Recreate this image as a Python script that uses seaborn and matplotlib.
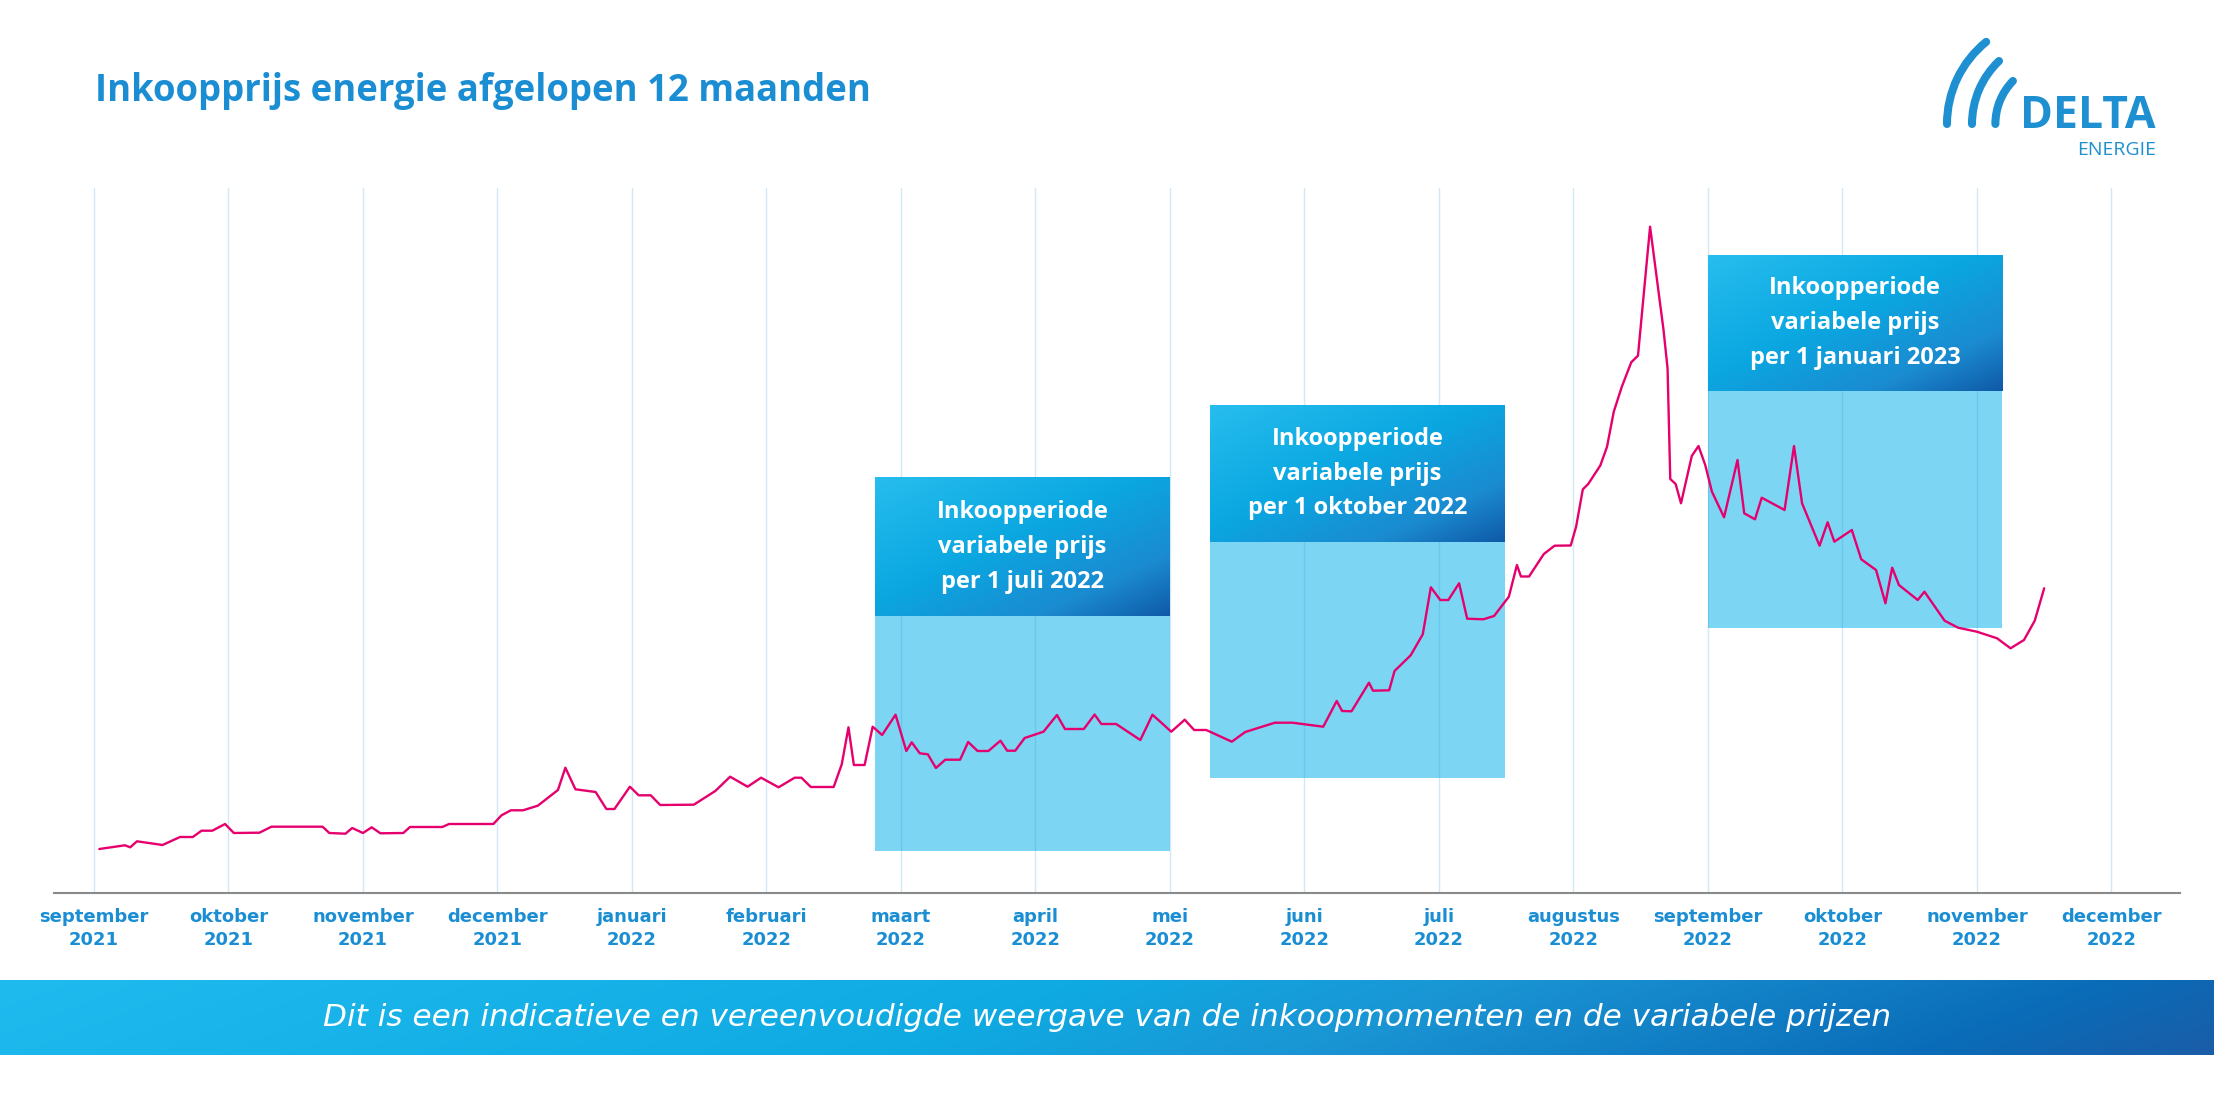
import numpy as np
import pandas as pd
import seaborn as sns
import matplotlib.pyplot as plt
from matplotlib.patches import Rectangle, Arc
from matplotlib.colors import LinearSegmentedColormap

# maand-as: 0 = september 2021, 15 = december 2022
maanden = ["september\n2021", "oktober\n2021", "november\n2021", "december\n2021",
           "januari\n2022", "februari\n2022", "maart\n2022", "april\n2022",
           "mei\n2022", "juni\n2022", "juli\n2022", "augustus\n2022",
           "september\n2022", "oktober\n2022", "november\n2022", "december\n2022"]
maand_pos = list(range(len(maanden)))

maand = [0.04, 0.23, 0.27, 0.32, 0.51, 0.64, 0.735, 0.80, 0.88, 0.975,
         1.04, 1.23, 1.32, 1.70, 1.75, 1.87, 1.92, 2.00, 2.065, 2.13,
         2.30, 2.35, 2.59, 2.64, 2.97, 3.03, 3.10, 3.19, 3.30, 3.45,
         3.505, 3.58, 3.73, 3.81, 3.87, 3.985, 4.05, 4.14, 4.21, 4.46,
         4.62, 4.73, 4.86, 4.96, 5.09, 5.21, 5.26, 5.33, 5.50, 5.56,
         5.61, 5.65, 5.73, 5.79, 5.86, 5.96, 6.04, 6.08, 6.14, 6.20,
         6.26, 6.33, 6.44, 6.50, 6.57, 6.65, 6.74, 6.79, 6.85, 6.92,
         7.06, 7.16, 7.22, 7.36, 7.44, 7.49, 7.60, 7.78, 7.87, 8.01,
         8.11, 8.18, 8.27, 8.46, 8.56, 8.78, 8.91, 9.14, 9.24, 9.28,
         9.35, 9.48, 9.51, 9.63, 9.67, 9.79, 9.88, 9.94, 10.01, 10.07,
         10.15, 10.21, 10.33, 10.41, 10.52, 10.58, 10.61, 10.67, 10.78, 10.86,
         10.98, 11.02, 11.07, 11.11, 11.20, 11.25, 11.30, 11.36, 11.43, 11.48,
         11.57, 11.67, 11.70, 11.72, 11.76, 11.80, 11.88, 11.93, 11.98, 12.03,
         12.12, 12.22, 12.27, 12.35, 12.40, 12.57, 12.64, 12.70, 12.83, 12.89,
         12.94, 13.07, 13.14, 13.25, 13.32, 13.37, 13.42, 13.56, 13.61, 13.76,
         13.86, 14.00, 14.15, 14.25, 14.35, 14.43, 14.50]
prijs = [44, 47.7, 45.7, 51.7, 48, 56, 56, 62.3, 62.3, 69,
         60, 60.3, 66.3, 66.3, 60, 59.3, 65, 60, 65.7, 59.7,
         60, 66, 66, 69, 69, 77.7, 82.7, 82.7, 87.3, 103,
         125.3, 103.7, 101, 84, 84, 106.3, 97.7, 97.7, 88, 88.3,
         102, 116.3, 106.3, 115.3, 105.7, 115.3, 115.3, 106, 106, 128.7,
         165.7, 128, 128, 166.3, 158, 178.3, 142, 150.7, 139.7, 138.7,
         125, 133.3, 133.3, 151, 142, 142, 152.3, 142.3, 142.3, 155,
         161.3, 178, 164, 164, 178.5, 169, 169, 153, 178.3, 161.3,
         173.3, 163, 163, 151.3, 161, 170.3, 170.3, 166.3, 192, 182,
         181.7, 210.3, 202.3, 202.7, 222, 237.7, 258.7, 305.7, 293, 293,
         309.7, 274.3, 273.7, 277, 296.3, 328, 316.5, 316.5, 339, 347.3,
         347.5, 366.3, 403.7, 409, 427.5, 446.3, 481.3, 506.3, 530.7, 537.3,
         666.3, 563, 524.7, 414, 409, 389.7, 437, 447, 428, 401.3,
         375.7, 433, 379.7, 373.7, 395.3, 383, 447, 389.7, 347.3, 370.7,
         351.3, 363, 333.7, 323, 289.7, 325.3, 308, 293, 301.3, 272.3,
         265.3, 261.3, 254.7, 244.7, 253, 272.3, 304.7]

# inkoopperiodes
perioden = ["Inkoopperiode\nvariabele prijs\nper 1 juli 2022",
            "Inkoopperiode\nvariabele prijs\nper 1 oktober 2022",
            "Inkoopperiode\nvariabele prijs\nper 1 januari 2023"]
periode_start = [5.81, 8.30, 12.0]
periode_eind = [8.0, 10.49, 14.19]
periode_laag = [42, 115, 265]
periode_midden = [277, 351, 502]
periode_hoog = [415, 488, 638]

titel = "Inkoopprijs energie afgelopen 12 maanden"
voetnoot = "Dit is een indicatieve en vereenvoudigde weergave van de inkoopmomenten en de variabele prijzen"

sns.set_theme(style="white")
plt.rcParams["font.family"] = ["Open Sans", "DejaVu Sans"]

BLAUW = "#1b8ed3"
ROZE = "#e5006e"
LICHT = "#7dd5f4"

W, H = 2220, 1119
fig = plt.figure(figsize=(W / 100, H / 100), dpi=100)

# achtergrond-as in pixels voor titel, logo en balk
bg = fig.add_axes([0, 0, 1, 1])
bg.axis("off")

ax = fig.add_axes([54 / W, 1 - 893 / H, 2126 / W, 705 / H])
ax.patch.set_alpha(0)

hdr_cmap = LinearSegmentedColormap.from_list(
    "hdr", [(0, "#27bdee"), (0.45, "#0aa7e1"), (0.78, "#1b8bd0"), (1, "#0f5aa8")])
u = np.linspace(0, 1, 200)[None, :]
v = np.linspace(0, 1, 100)[:, None]
diag = (u + v) / 2

for i in maand_pos:
    ax.axvline(i, color=BLAUW, alpha=0.2, lw=1, zorder=2)

for txt, x0, x1, lo, mid, hi in zip(perioden, periode_start, periode_eind,
                                    periode_laag, periode_midden, periode_hoog):
    ax.add_patch(Rectangle((x0, lo), x1 - x0, mid - lo, color=LICHT, lw=0, zorder=1))
    ax.imshow(diag, cmap=hdr_cmap, extent=(x0, x1, mid, hi), origin="upper",
              aspect="auto", zorder=3)
    ax.text((x0 + x1) / 2, (mid + hi) / 2, txt, ha="center", va="center",
            color="white", fontsize=17, fontweight="bold", linespacing=1.6, zorder=4)

df = pd.DataFrame({"maand": maand, "prijs": prijs})
sns.lineplot(data=df, x="maand", y="prijs", ax=ax, color=ROZE, lw=1.7,
             sort=False, estimator=None, zorder=5)

ax.set_xlim(-0.297, 15.51)
ax.set_ylim(0, 705)
ax.set_xticks(maand_pos, maanden)
ax.set_yticks([])
ax.set_xlabel("")
ax.set_ylabel("")
ax.tick_params(axis="x", length=0, pad=11, labelcolor=BLAUW)
for lbl in ax.get_xticklabels():
    lbl.set_fontfamily("DejaVu Sans")
    lbl.set_fontsize(13)
    lbl.set_fontweight("bold")
    lbl.set_linespacing(1.35)
for s in ["top", "left", "right"]:
    ax.spines[s].set_visible(False)
ax.spines["bottom"].set_color("#8a8a8a")
ax.spines["bottom"].set_linewidth(1.5)

# titel
bg.text(95, 101, titel, fontsize=26.3, fontweight="bold", color=BLAUW, va="baseline")

# logo
for cx, r, t2, in [(2052.7, 105.7, 231), (2059, 87, 226.4), (2057, 61.6, 224.3)]:
    bg.add_patch(Arc((cx, 124), 2 * r, 2 * r, theta1=180, theta2=t2,
                     color="#1e90d2", lw=5.8, capstyle="round"))
bg.text(2156, 128, "DELTA", fontsize=32, fontweight="bold", color="#1e90d2",
        ha="right", va="baseline")
bg.text(2156, 155, "ENERGIE", fontsize=14, color="#1e90d2", ha="right", va="baseline")

# voetbalk
bar_cmap = LinearSegmentedColormap.from_list(
    "bar", [(0, "#1fbaee"), (0.45, "#0faae2"), (0.62, "#1a95d4"), (0.88, "#0a6cb8"), (1, "#1a5da8")])
bu = np.linspace(0, 1, 400)[None, :]
bv = np.linspace(0, 1, 50)[:, None]
bg.imshow(bu * 0.92 + bv * 0.08, cmap=bar_cmap, extent=(0, 2214, 1055, 980),
          origin="upper", aspect="auto")
bg.text(1107, 1017, voetnoot, fontsize=22.4, style="italic", color="white",
        ha="center", va="center", family="DejaVu Sans")

bg.set_xlim(0, W)
bg.set_ylim(H, 0)

fig.savefig("out.png", dpi=100)
